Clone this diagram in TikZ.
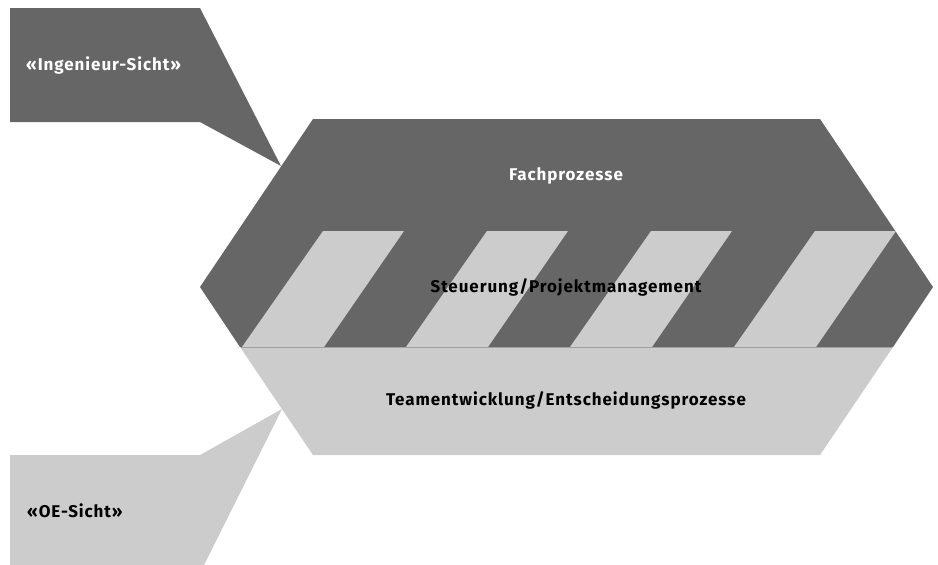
\documentclass[tikz,border=0pt]{standalone}
\usepackage{fontspec}
\setmainfont{Fira Sans}[LetterSpace=5.5]
\definecolor{dk}{HTML}{666666}
\definecolor{lt}{HTML}{CCCCCC}
\definecolor{edge}{HTML}{A0A0A0}
\begin{document}
\begin{tikzpicture}[x=1pt,y=-1pt,
  lbl/.style={font=\bfseries\fontsize{17}{20}\selectfont, inner sep=0pt},
  wlbl/.style={lbl, text=white},
  klbl/.style={lbl, text=black}]
\useasboundingbox (0,0) rectangle (938,565);
% callouts
\fill[dk] (10,8) -- (200,8) -- (281,166) -- (200,122) -- (10,122) -- cycle;
\fill[lt] (10,455) -- (200,455) -- (282,409) -- (204,565) -- (10,565) -- cycle;
% hexagon upper part
\fill[dk] (200,287) -- (313,119) -- (820,119) -- (933,287) -- (893,347) -- (240,347) -- cycle;
% stripes
\begin{scope}
  \clip (200,287) -- (313,119) -- (820,119) -- (933,287) -- (893,347) -- (240,347) -- cycle;
  \foreach \i in {0,1,2,3}
    \fill[lt] ({323+164*\i},231) -- ({404+164*\i},231) -- ({324+164*\i},347) -- ({242+164*\i},347) -- cycle;
\end{scope}
% lower part
\fill[lt] (240,347) -- (893,347) -- (820,455) -- (313,455) -- cycle;
\draw[edge, line width=1pt] (241,347) -- (892,347);
% texts
\node[wlbl, anchor=west] (ing) at (26,65) {«Ingenieur-Sicht»};
\node[klbl, anchor=west] (oe) at (27,511) {«OE-Sicht»};
\node[wlbl] (fach) at (566,176) {Fachprozesse};
\node[klbl] (steu) at (566,287) {Steuerung/Projektmanagement};
\node[klbl] (team) at (566,400) {Teamentwicklung/Entscheidungsprozesse};
\end{tikzpicture}
\end{document}
